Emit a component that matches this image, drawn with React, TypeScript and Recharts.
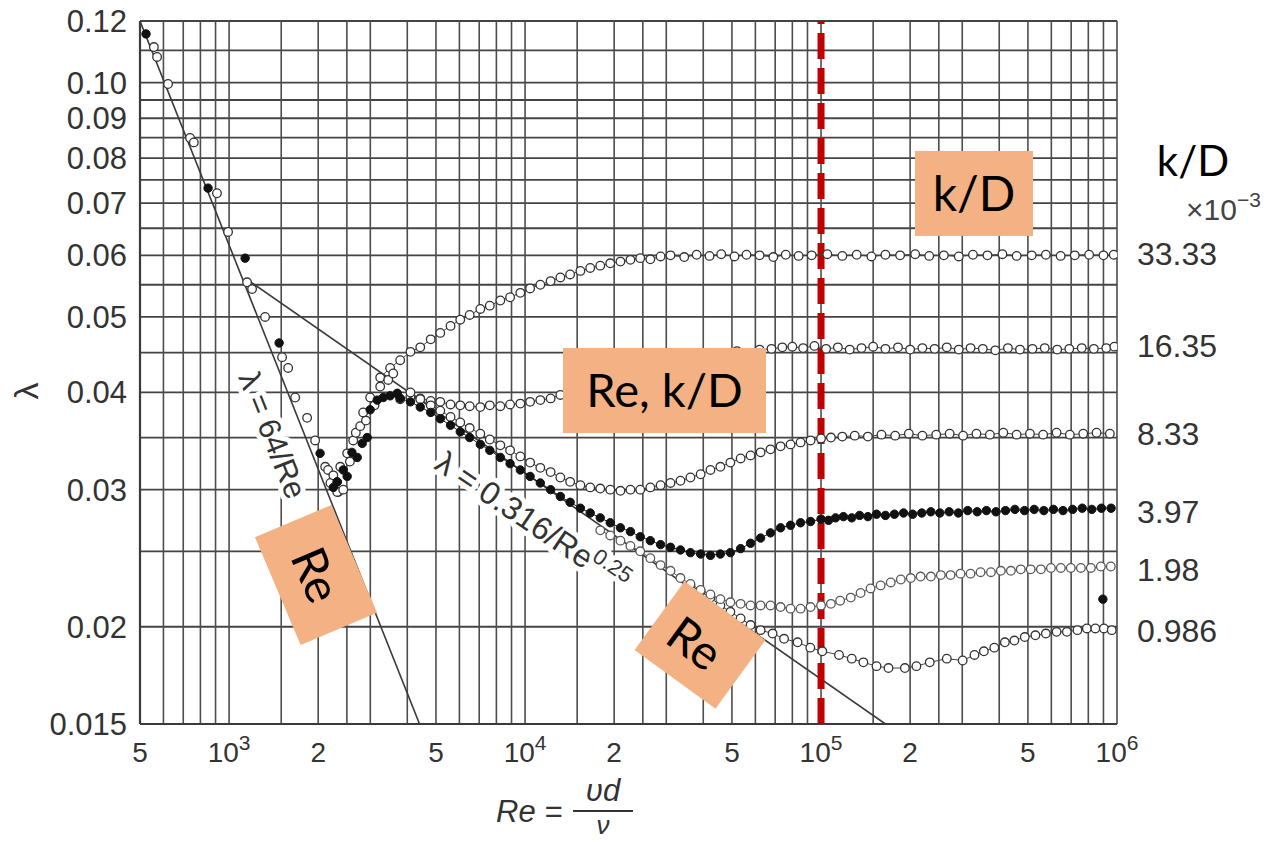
import React from 'react';
import { ComposedChart, XAxis, YAxis, Scatter, Line, ReferenceLine } from 'recharts';

type Pair = [number, number];

// axis ticks
const xTicks = [500, 1000, 2000, 5000, 10000, 20000, 50000, 100000, 200000, 500000, 1000000];
const xTickMain = ['5', '10', '2', '5', '10', '2', '5', '10', '2', '5', '10'];
const xTickSup = ['', '3', '', '', '4', '', '', '5', '', '', '6'];
const yTicks = [0.015, 0.02, 0.03, 0.04, 0.05, 0.06, 0.07, 0.08, 0.09, 0.1, 0.12];
const yTickLabels = ['0.015', '0.02', '0.03', '0.04', '0.05', '0.06', '0.07', '0.08', '0.09', '0.10', '0.12'];

// k/D labels on the right, placed at the lambda each curve levels off at
const kdLabels = ['33.33', '16.35', '8.33', '3.97', '1.98', '0.986'];
const kdLabelF = [0.0604, 0.046, 0.0354, 0.0281, 0.0237, 0.0198];

// grid
const gridRe = [
  500, 600, 700, 800, 900,
  1000, 1500, 2000, 2500, 3000, 4000, 5000, 6000, 7000, 8000, 9000,
  10000, 15000, 20000, 25000, 30000, 40000, 50000, 60000, 70000, 80000, 90000,
  100000, 150000, 200000, 250000, 300000, 400000, 500000, 600000, 700000, 800000, 900000,
  1000000,
];
const gridF = [
  0.015, 0.02, 0.025, 0.03, 0.035, 0.04, 0.045, 0.05, 0.055, 0.06, 0.065, 0.07,
  0.075, 0.08, 0.085, 0.09, 0.095, 0.1, 0.11, 0.12,
];

// reference lines
const laminarLine: Pair[] = [[500, 0.12], [4400, 0.015]];
const blasiusLine: Pair[] = [[1140, 0.056], [165000, 0.015]];

// measured points
const laminarOpen: Pair[] = [
  [557, 0.1111], [571, 0.1079], [622, 0.0996], [738, 0.0849], [760, 0.0838], [910, 0.0721],
  [992, 0.0643], [1150, 0.0554], [1196, 0.0543], [1323, 0.05], [1510, 0.0444], [1583, 0.043],
  [1672, 0.0394], [1835, 0.0371], [1953, 0.0347], [2112, 0.0321], [2337, 0.0298],
];
const laminarFilled: Pair[] = [
  [524, 0.1155], [849, 0.0732], [1133, 0.0595], [1476, 0.0463], [2030, 0.0334], [2319, 0.0307],
];
const transitionOpen: Pair[] = [
  [2160, 0.0318], [2200, 0.0306], [2250, 0.0313], [2319, 0.0298], [2375, 0.0321], [2430, 0.03],
  [2506, 0.0334], [2560, 0.0326], [2627, 0.0347], [2680, 0.0355], [2773, 0.0362], [2838, 0.0377],
  [2900, 0.0368], [2997, 0.0394], [3100, 0.0385], [3240, 0.0407], [3449, 0.0415], [3586, 0.0423],
];
const transitionFilled: Pair[] = [
  [2250, 0.0302], [2319, 0.0307], [2430, 0.0318], [2506, 0.0312], [2600, 0.0335], [2710, 0.033],
  [2817, 0.0344], [2928, 0.035], [2997, 0.038], [3166, 0.0391], [3318, 0.0394], [3700, 0.0399],
];

const kd3333: Pair[] = [
  [3240, 0.0418], [3500, 0.043], [3785, 0.044], [4100, 0.0451], [4425, 0.0457], [4800, 0.0468],
  [5170, 0.0477], [5600, 0.0487], [6040, 0.0496], [6500, 0.0503], [7060, 0.0512], [7600, 0.0517],
  [8250, 0.0525], [8900, 0.053], [9640, 0.0537], [10400, 0.0544], [11260, 0.055], [12200, 0.0556],
  [13160, 0.0562], [14200, 0.0567], [15380, 0.0573], [16600, 0.0578], [17950, 0.0582], [19400, 0.0586],
  [21000, 0.0589], [22700, 0.0592], [24500, 0.0595], [26500, 0.0593], [28700, 0.0598], [31000, 0.06],
  [34500, 0.0597], [38000, 0.0601], [42000, 0.0599], [46000, 0.0602], [51000, 0.0598], [56000, 0.0601],
  [62000, 0.06], [69000, 0.0597], [76000, 0.0601], [84000, 0.0599], [93000, 0.06], [105000, 0.0602],
  [118000, 0.0599], [132000, 0.0601], [148000, 0.0598], [165000, 0.0601], [185000, 0.06], [208000, 0.0602],
  [232000, 0.0599], [260000, 0.06], [292000, 0.0598], [326000, 0.0601], [365000, 0.06], [410000, 0.0602],
  [458000, 0.0599], [515000, 0.06], [575000, 0.0601], [645000, 0.0599], [720000, 0.06], [805000, 0.0601],
  [900000, 0.06], [975000, 0.0601],
];
const kd1635: Pair[] = [
  [3785, 0.0392], [4100, 0.0395], [4425, 0.0393], [4800, 0.039], [5170, 0.0389], [5600, 0.0386],
  [6040, 0.0385], [6500, 0.0384], [7060, 0.0383], [7600, 0.0385], [8250, 0.0384], [8900, 0.0386],
  [9640, 0.0387], [10400, 0.0389], [11260, 0.0391], [12200, 0.0393], [13160, 0.0397], [15500, 0.0404],
  [19000, 0.0414], [24000, 0.0426], [31000, 0.0438], [40000, 0.0447], [52000, 0.0452], [62000, 0.0454],
  [68000, 0.0455], [74000, 0.0457], [80000, 0.0458], [87000, 0.0456], [95000, 0.0459], [104000, 0.0455],
  [114000, 0.0457], [125000, 0.0454], [137000, 0.0456], [150000, 0.0458], [165000, 0.0455], [182000, 0.0457],
  [200000, 0.0454], [220000, 0.0456], [242000, 0.0455], [266000, 0.0457], [292000, 0.0454], [320000, 0.0456],
  [352000, 0.0455], [388000, 0.0453], [428000, 0.0456], [470000, 0.0454], [518000, 0.0455], [570000, 0.0456],
  [628000, 0.0454], [690000, 0.0455], [760000, 0.0456], [835000, 0.0455], [920000, 0.0456], [980000, 0.0458],
];
const kd833: Pair[] = [
  [4100, 0.04], [4425, 0.0392], [4800, 0.0385], [5170, 0.0379], [5600, 0.0372], [6040, 0.0366],
  [6500, 0.036], [7060, 0.0354], [7600, 0.0348], [8250, 0.0342], [8900, 0.0337], [9640, 0.0331],
  [10400, 0.0325], [11260, 0.032], [12200, 0.0316], [13160, 0.0311], [14200, 0.0307], [15380, 0.0304],
  [16600, 0.0302], [17950, 0.0301], [19400, 0.03], [21000, 0.0299], [22700, 0.03], [24500, 0.03],
  [26500, 0.0302], [28700, 0.0304], [31000, 0.0306], [33500, 0.0308], [36200, 0.0311], [39200, 0.0314],
  [42300, 0.0318], [45700, 0.0321], [49400, 0.0325], [53500, 0.0329], [57800, 0.0332], [62500, 0.0335],
  [67500, 0.0338], [73000, 0.0341], [78900, 0.0343], [85300, 0.0345], [92200, 0.0347], [100000, 0.0349],
  [108000, 0.035], [118000, 0.0351], [130000, 0.0352], [144000, 0.0351], [160000, 0.0353], [178000, 0.0352],
  [198000, 0.0354], [220000, 0.0352], [245000, 0.0353], [272000, 0.0354], [302000, 0.0352], [335000, 0.0354],
  [372000, 0.0353], [413000, 0.0355], [458000, 0.0353], [508000, 0.0354], [563000, 0.0353], [625000, 0.0355],
  [693000, 0.0353], [769000, 0.0354], [853000, 0.0355], [946000, 0.0354],
];
const kd397: Pair[] = [
  [3500, 0.0396], [3785, 0.0393], [4100, 0.0389], [4425, 0.0383], [4800, 0.0377], [5170, 0.037],
  [5600, 0.0363], [6040, 0.0356], [6500, 0.035], [7060, 0.0343], [7600, 0.0337], [8250, 0.033],
  [8900, 0.0324], [9640, 0.0318], [10400, 0.0312], [11260, 0.0306], [12200, 0.03], [13160, 0.0294],
  [14200, 0.0289], [15380, 0.0284], [16600, 0.028], [17950, 0.0276], [19400, 0.0272], [21000, 0.0268],
  [22700, 0.0265], [24500, 0.0261], [26500, 0.0258], [28700, 0.0255], [31000, 0.0253], [33500, 0.0251],
  [36200, 0.0249], [39200, 0.0248], [42300, 0.0247], [45700, 0.0248], [49400, 0.0249], [53500, 0.0252],
  [57800, 0.0256], [62500, 0.026], [67500, 0.0264], [73000, 0.0268], [78900, 0.027], [85300, 0.0272],
  [92200, 0.0273], [100000, 0.0275], [106000, 0.0274], [112000, 0.0276], [119000, 0.0277], [127000, 0.0276],
  [135000, 0.0278], [144000, 0.0277], [154000, 0.0279], [165000, 0.0278], [177000, 0.0279], [190000, 0.028],
  [204000, 0.0279], [219000, 0.028], [235000, 0.0281], [252000, 0.028], [271000, 0.0281], [291000, 0.028],
  [313000, 0.0282], [337000, 0.0281], [362000, 0.0282], [390000, 0.0281], [420000, 0.0282], [452000, 0.0283],
  [487000, 0.0282], [525000, 0.0283], [566000, 0.0282], [610000, 0.0283], [657000, 0.0282], [708000, 0.0283],
  [763000, 0.0284], [822000, 0.0283], [886000, 0.0284], [955000, 0.0284],
];
const kd198: Pair[] = [
  [17950, 0.0266], [19400, 0.0262], [21000, 0.0258], [22700, 0.0254], [24500, 0.025], [26500, 0.0245],
  [28700, 0.024], [31000, 0.0236], [33500, 0.0231], [36200, 0.0227], [39200, 0.0223], [42300, 0.022],
  [45700, 0.0217], [49400, 0.0215], [53500, 0.0214], [57800, 0.0213], [62500, 0.0213], [67500, 0.0213],
  [73000, 0.0212], [78900, 0.0211], [85300, 0.0211], [92200, 0.0212], [100000, 0.0213], [108000, 0.0214],
  [116000, 0.0216], [126000, 0.0218], [136000, 0.0221], [147000, 0.0224], [159000, 0.0226], [172000, 0.0228],
  [186000, 0.023], [201000, 0.0231], [217000, 0.0232], [235000, 0.0232], [254000, 0.0233], [274000, 0.0233],
  [296000, 0.0234], [320000, 0.0234], [346000, 0.0235], [375000, 0.0235], [405000, 0.0236], [438000, 0.0236],
  [473000, 0.0237], [511000, 0.0237], [553000, 0.0237], [598000, 0.0238], [646000, 0.0238], [698000, 0.0238],
  [755000, 0.0238], [816000, 0.0238], [882000, 0.0239], [953000, 0.0239],
];
const kd0986: Pair[] = [
  [36200, 0.0226], [39200, 0.0222], [42300, 0.0218], [45700, 0.0213], [49400, 0.0209], [53500, 0.0205],
  [57800, 0.0201], [62500, 0.0198], [68600, 0.0196], [75000, 0.0193], [83300, 0.0191], [92000, 0.0188],
  [101000, 0.0186], [115000, 0.0184], [127000, 0.0182], [139000, 0.018], [154000, 0.0178], [169000, 0.0177],
  [192000, 0.0177], [210000, 0.0178], [233000, 0.018], [266000, 0.0182], [301000, 0.0181], [330000, 0.0184],
  [355000, 0.0186], [385000, 0.0188], [418000, 0.0191], [450000, 0.0192], [488000, 0.0194], [530000, 0.0195],
  [575000, 0.0196], [625000, 0.0197], [677000, 0.0197], [735000, 0.0198], [791000, 0.0199], [845000, 0.0199],
  [903000, 0.0199], [960000, 0.0198],
];
const strayFilled: Pair[] = [[896000, 0.0217]];

const toPts = (arr: Pair[]) => arr.map(([re, f]) => ({ re, f }));

const axisFont = '"Liberation Sans", Arial, sans-serif';
const boxFont = 'Lato, "Open Sans", sans-serif';
const boxFill = '#F4B183';

const openDot = (p: any) => (
  <circle cx={p.cx} cy={p.cy} r={4.3} fill="#fff" stroke="#333" strokeWidth={1.3} />
);
const greyDot = (p: any) => (
  <circle cx={p.cx} cy={p.cy} r={4.3} fill="#fff" stroke="#5a5a5a" strokeWidth={1.3} />
);
const filledDot = (p: any) => (
  <circle cx={p.cx} cy={p.cy} r={4.2} fill="#111" stroke="#111" strokeWidth={1} />
);

const XTick = ({ x, y, payload }: any) => {
  const i = xTicks.indexOf(payload.value);
  return (
    <text x={x} y={y + 38} textAnchor="middle" fontSize={28} fill="#333" fontFamily={axisFont}>
      {xTickMain[i]}
      {xTickSup[i] ? (
        <tspan fontSize={21} dy={-12}>
          {xTickSup[i]}
        </tspan>
      ) : null}
    </text>
  );
};

const YTick = ({ x, y, payload }: any) => {
  const i = yTicks.indexOf(payload.value);
  return (
    <text x={x - 13} y={y + 11} textAnchor="end" fontSize={31} fill="#333" fontFamily={axisFont}>
      {yTickLabels[i]}
    </text>
  );
};

const KdTick = ({ x, y, payload }: any) => {
  const i = kdLabelF.indexOf(payload.value);
  return (
    <text x={x + 20} y={y + 11.5} textAnchor="start" fontSize={32} fill="#333" fontFamily={axisFont}>
      {kdLabels[i]}
    </text>
  );
};

const halo = { paintOrder: 'stroke', stroke: '#fff', strokeWidth: 10, strokeLinejoin: 'round' } as any;

export default function App() {
  return (
    <div style={{ position: 'absolute', left: 0, top: 0, width: 1281, height: 842, background: '#fff' }}>
      <style>{'body{margin:0;overflow:hidden}'}</style>
      <ComposedChart width={1281} height={842} margin={{ top: 21, right: 0, bottom: 0, left: 0 }}>
        <XAxis
          dataKey="re"
          type="number"
          scale="log"
          domain={[500, 1000000]}
          allowDataOverflow
          ticks={xTicks}
          interval={0}
          height={118}
          tick={<XTick />}
          tickLine={false}
          tickSize={0}
          tickMargin={0}
          axisLine={{ stroke: '#3a3a3a', strokeWidth: 2.2 }}
        />
        <YAxis
          dataKey="f"
          type="number"
          scale="log"
          domain={[0.015, 0.12]}
          allowDataOverflow
          ticks={yTicks}
          interval={0}
          width={140}
          tick={<YTick />}
          tickLine={false}
          tickSize={0}
          tickMargin={0}
          axisLine={{ stroke: '#3a3a3a', strokeWidth: 2.2 }}
        />
        <YAxis
          yAxisId="kd"
          orientation="right"
          type="number"
          scale="log"
          domain={[0.015, 0.12]}
          allowDataOverflow
          ticks={kdLabelF}
          interval={0}
          width={164}
          tick={<KdTick />}
          tickLine={false}
          tickSize={0}
          tickMargin={0}
          axisLine={false}
        />

        {gridF.map((v) => (
          <ReferenceLine key={`h${v}`} y={v} stroke="#444" strokeWidth={1.8} />
        ))}
        {gridRe.map((v) => (
          <ReferenceLine key={`v${v}`} x={v} stroke="#4d4d4d" strokeWidth={1.6} />
        ))}

        <Line data={toPts(laminarLine)} dataKey="f" type="linear" stroke="#3a3a3a" strokeWidth={1.6} dot={false} isAnimationActive={false} />
        <Line data={toPts(blasiusLine)} dataKey="f" type="linear" stroke="#3a3a3a" strokeWidth={1.6} dot={false} isAnimationActive={false} />

        <Scatter data={toPts(kd3333)} shape={openDot} line={{ stroke: '#444', strokeWidth: 1 }} isAnimationActive={false} />
        <Scatter data={toPts(kd1635)} shape={openDot} line={{ stroke: '#444', strokeWidth: 1 }} isAnimationActive={false} />
        <Scatter data={toPts(kd833)} shape={openDot} line={{ stroke: '#444', strokeWidth: 1 }} isAnimationActive={false} />
        <Scatter data={toPts(kd0986)} shape={openDot} line={{ stroke: '#444', strokeWidth: 1 }} isAnimationActive={false} />
        <Scatter data={toPts(kd198)} shape={greyDot} line={{ stroke: '#555', strokeWidth: 1 }} isAnimationActive={false} />
        <Scatter data={toPts(kd397)} shape={filledDot} line={{ stroke: '#222', strokeWidth: 1 }} isAnimationActive={false} />
        <Scatter data={toPts(laminarOpen)} shape={openDot} isAnimationActive={false} />
        <Scatter data={toPts(transitionOpen)} shape={openDot} isAnimationActive={false} />
        <Scatter data={toPts(laminarFilled)} shape={filledDot} isAnimationActive={false} />
        <Scatter data={toPts(transitionFilled)} shape={filledDot} isAnimationActive={false} />
        <Scatter data={toPts(strayFilled)} shape={filledDot} isAnimationActive={false} />

        <ReferenceLine x={100000} stroke="#c00000" strokeWidth={7} strokeDasharray="26 9" />
      </ComposedChart>

      <svg
        width={1281}
        height={842}
        style={{ position: 'absolute', left: 0, top: 0, pointerEvents: 'none' }}
      >
        {/* y axis symbol */}
        <text transform="translate(38,391) rotate(-90)" textAnchor="middle" fontSize={34} fill="#333" fontFamily={axisFont}>
          λ
        </text>

        {/* x axis title */}
        <text x={496} y={822} fontSize={31} fontStyle="italic" fill="#333" fontFamily={axisFont}>
          Re =
        </text>
        <line x1={573} x2={633} y1={811} y2={811} stroke="#333" strokeWidth={2} />
        <text x={603} y={801} textAnchor="middle" fontSize={31} fontStyle="italic" fill="#333" fontFamily={axisFont}>
          υd
        </text>
        <text x={603} y={834} textAnchor="middle" fontSize={26} fontStyle="italic" fill="#333" fontFamily={axisFont}>
          ν
        </text>

        {/* line labels */}
        <text transform="translate(238,377) rotate(68.3)" fontSize={31} fill="#333" fontFamily={axisFont} style={halo}>
          λ = 64/Re
        </text>
        <text transform="translate(433,468) rotate(34)" fontSize={32} fill="#333" fontFamily={axisFont} style={halo}>
          λ = 0.316/Re
          <tspan fontSize={22} dy={-12}>
            0.25
          </tspan>
        </text>

        {/* right-hand header */}
        <text x={1193} y={176} textAnchor="middle" fontSize={42} fill="#000" fontFamily={boxFont}>
          k/D
        </text>
        <text x={1186} y={220} fontSize={30} fill="#444" fontFamily={axisFont}>
          ×10
          <tspan fontSize={21} dy={-13}>
            −3
          </tspan>
        </text>

        {/* orange callouts */}
        <rect x={915} y={151} width={118} height={85} fill={boxFill} />
        <text x={974} y={211} textAnchor="middle" fontSize={48} fill="#000" fontFamily={boxFont}>
          k/D
        </text>

        <rect x={563} y={348} width={203} height={85} fill={boxFill} />
        <text x={664.5} y={407} textAnchor="middle" fontSize={47} fill="#000" fontFamily={boxFont}>
          Re, k/D
        </text>

        <g transform="translate(316,575) rotate(67)">
          <rect x={-58.5} y={-41.5} width={117} height={83} fill={boxFill} />
          <text x={0} y={17} textAnchor="middle" fontSize={48} fill="#000" fontFamily={boxFont}>
            Re
          </text>
        </g>

        <g transform="translate(700,645) rotate(36)">
          <rect x={-50} y={-42.5} width={100} height={85} fill={boxFill} />
          <text x={-5} y={19} textAnchor="middle" fontSize={48} fill="#000" fontFamily={boxFont}>
            Re
          </text>
        </g>
      </svg>
    </div>
  );
}
